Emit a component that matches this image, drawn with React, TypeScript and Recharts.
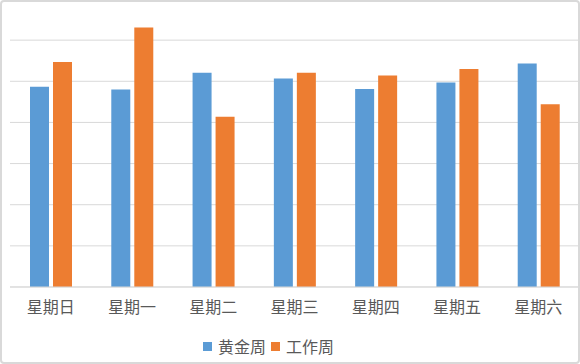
import React from 'react';
import { BarChart, Bar, XAxis, YAxis, CartesianGrid } from 'recharts';

const days = ['星期日', '星期一', '星期二', '星期三', '星期四', '星期五', '星期六'];
const goldenWeek = [4.87, 4.8, 5.21, 5.07, 4.81, 4.97, 5.43];
const workWeek = [5.47, 6.31, 4.14, 5.21, 5.14, 5.3, 4.44];
const yTicks = [0, 1, 2, 3, 4, 5, 6, 7];

const BLUE = '#5B9BD5';
const ORANGE = '#ED7D31';
const TEXT = '#595959';
const FONT = '"Noto Sans CJK SC", "Noto Sans", sans-serif';

const data = days.map((d, i) => ({ day: d, golden: goldenWeek[i], work: workWeek[i] }));

const legendItems = [
  { label: '黄金周', color: BLUE },
  { label: '工作周', color: ORANGE },
];

export default function App() {
  return (
    <div style={{ position: 'absolute', left: 0, top: 0, width: 580, height: 364, background: '#fff', overflow: 'hidden' }}>
      <BarChart
        width={580}
        height={364}
        data={data}
        margin={{ top: -1, right: 1, bottom: 47, left: 10 }}
        barSize={19}
        barGap={4}
      >
        <CartesianGrid vertical={false} stroke="#D9D9D9" strokeWidth={1} />
        <YAxis hide domain={[0, 7]} ticks={yTicks} />
        <XAxis
          dataKey="day"
          height={30}
          stroke="#D9D9D9"
          tickLine={false}
          tickMargin={9}
          tick={{ fill: TEXT, fontSize: 16, fontFamily: FONT }}
        />
        <Bar dataKey="golden" fill={BLUE} isAnimationActive={false} />
        <Bar dataKey="work" fill={ORANGE} isAnimationActive={false} />
      </BarChart>
      <div
        style={{
          position: 'absolute',
          left: 203,
          top: 334,
          display: 'flex',
          alignItems: 'center',
          fontFamily: FONT,
          fontSize: 16,
          color: TEXT,
          lineHeight: '24px',
        }}
      >
        {legendItems.map((it, i) => (
          <div key={it.label} style={{ display: 'flex', alignItems: 'center', marginRight: i === 0 ? 5 : 0 }}>
            <span style={{ display: 'inline-block', width: 9, height: 9, background: it.color, marginRight: 6 }} />
            <span>{it.label}</span>
          </div>
        ))}
      </div>
      <div
        style={{
          position: 'absolute',
          left: 0,
          top: 0,
          width: 580,
          height: 364,
          boxSizing: 'border-box',
          border: '2px solid #D9D9D9',
          borderRadius: 4,
          pointerEvents: 'none',
        }}
      />
    </div>
  );
}
